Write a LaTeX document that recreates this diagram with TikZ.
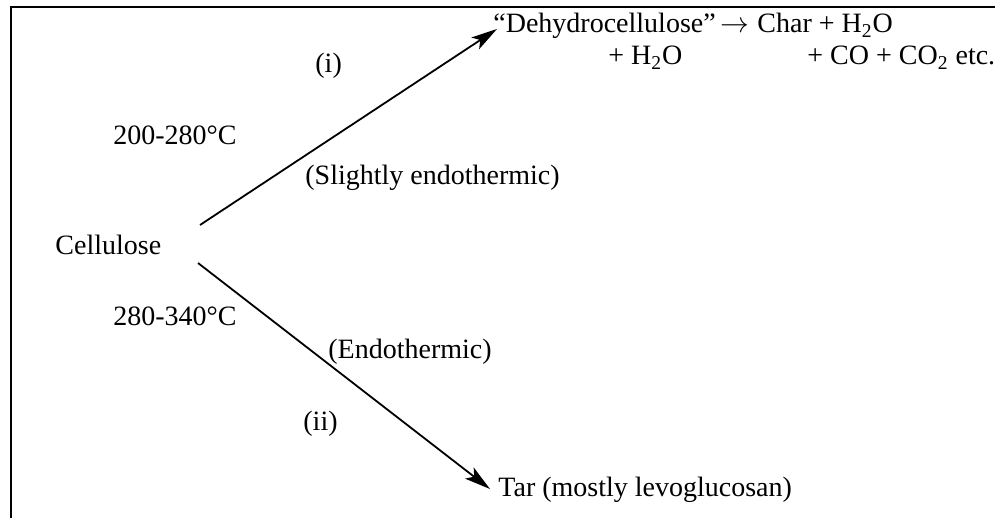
\documentclass[tikz,border=0pt]{standalone}
\usepackage{fontspec}
\setmainfont{Liberation Serif}
\usetikzlibrary{arrows.meta, positioning}

\begin{document}
\begin{tikzpicture}[x=0.5pt, y=-0.5pt, font=\fontsize{14}{17}\selectfont, >={Stealth[length=13pt, width=7pt, inset=3pt]}]
\useasboundingbox (0,0) rectangle (995,518);
% frame
\draw[line width=0.8pt] (11,518) -- (11,7) -- (995,7);
% compounds
\node[anchor=base west, inner sep=0pt] (cell) at (55,255) {Cellulose};
\node[anchor=base west, inner sep=0pt] (dehy) at (493,33) {``Dehydrocellulose''\,$\rightarrow$};
\node[anchor=base west, inner sep=0pt] (char) at (757,33) {Char + H\textsubscript{2}O};
\node[anchor=base west, inner sep=0pt] (wat) at (608,65) {+ H\textsubscript{2}O};
\node[anchor=base west, inner sep=0pt] (gas) at (807,65) {+ CO + CO\textsubscript{2} etc.};
\node[anchor=base west, inner sep=0pt] (tar) at (498,496) {Tar (mostly levoglucosan)};
% labels
\node[anchor=base west, inner sep=0pt] (ti) at (315,73) {(i)};
\node[anchor=base west, inner sep=0pt] (tlow) at (113,145) {200-280°C};
\node[anchor=base west, inner sep=0pt] (slight) at (305,185) {(Slightly endothermic)};
\node[anchor=base west, inner sep=0pt] (thigh) at (113,325) {280-340°C};
\node[anchor=base west, inner sep=0pt] (endo) at (328,358) {(Endothermic)};
\node[anchor=base west, inner sep=0pt] (tii) at (303,430) {(ii)};
% arrows
\coordinate (up) at (200,225);
\coordinate (lo) at (198,263);
\draw[->, line width=0.9pt] (up) -- ([xshift=2pt, yshift=2pt]dehy.base west);
\draw[->, line width=0.9pt] (lo) -- ([xshift=-4pt, yshift=3.5pt]tar.base west);
\end{tikzpicture}
\end{document}
